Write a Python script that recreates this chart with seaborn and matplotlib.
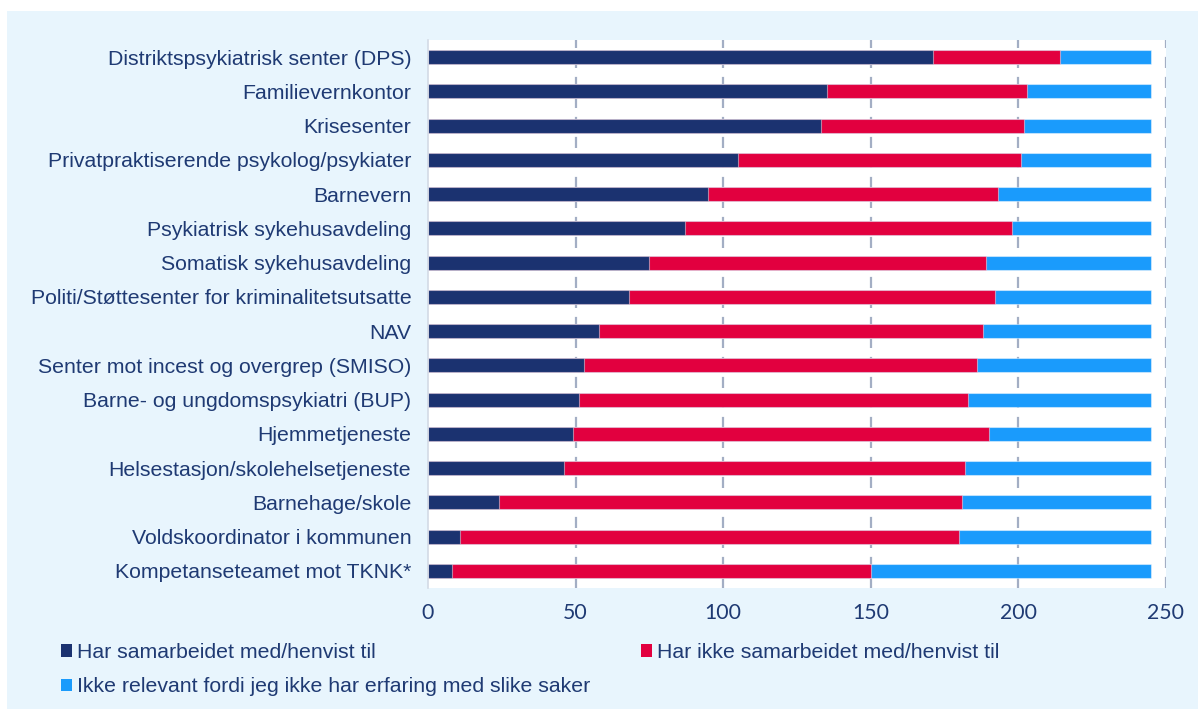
import matplotlib
matplotlib.use("Agg")
import matplotlib.pyplot as plt
from matplotlib.patches import Rectangle, Patch
import seaborn as sns
import pandas as pd
import numpy as np

categories = [
    "Distriktspsykiatrisk senter (DPS)",
    "Familievernkontor",
    "Krisesenter",
    "Privatpraktiserende psykolog/psykiater",
    "Barnevern",
    "Psykiatrisk sykehusavdeling",
    "Somatisk sykehusavdeling",
    "Politi/Støttesenter for kriminalitetsutsatte",
    "NAV",
    "Senter mot incest og overgrep (SMISO)",
    "Barne- og ungdomspsykiatri (BUP)",
    "Hjemmetjeneste",
    "Helsestasjon/skolehelsetjeneste",
    "Barnehage/skole",
    "Voldskoordinator i kommunen",
    "Kompetanseteamet mot TKNK*",
]
har_samarbeidet = [171, 135, 133, 105, 95, 87, 75, 68, 58, 53, 51, 49, 46, 24, 11, 8]
har_ikke = [43, 68, 69, 96, 98, 111, 114, 124, 130, 133, 132, 141, 136, 157, 169, 142]
ikke_relevant = [31, 42, 43, 44, 52, 47, 56, 53, 57, 59, 62, 55, 63, 64, 65, 95]

series_names = [
    "Har samarbeidet med/henvist til",
    "Har ikke samarbeidet med/henvist til",
    "Ikke relevant fordi jeg ikke har erfaring med slike saker",
]
colors = ["#1B3270", "#E2003F", "#1A9BFC"]
text_color = "#1F3A73"
x_ticks = [0, 50, 100, 150, 200, 250]

df = pd.DataFrame({
    "kategori": categories,
    "s1": har_samarbeidet,
    "s2": har_ikke,
    "s3": ikke_relevant,
})
df["c1"] = df["s1"]
df["c2"] = df["s1"] + df["s2"]
df["c3"] = df["s1"] + df["s2"] + df["s3"]

sns.set_theme(style="white")
plt.rcParams["font.family"] = ["Liberation Sans", "DejaVu Sans"]

W, H = 1198, 709
fs = 15.3
fig = plt.figure(figsize=(W / 100, H / 100), dpi=100, facecolor="white")
# light blue panel
fig.patches.append(Rectangle((7 / W, 0), 1 - 7 / W, 1 - 11 / H, transform=fig.transFigure,
                             facecolor="#E8F5FD", edgecolor="none", zorder=-10))

left, right, top, bottom = 428 / W, 1166 / W, 1 - 40 / H, 1 - 588 / H
ax = fig.add_axes([left, bottom, right - left, top - bottom])
ax.set_facecolor("white")

edge = (1, 1, 1, 0.45)
for col, c in zip(["c3", "c2", "c1"], colors[::-1]):
    sns.barplot(data=df, x=col, y="kategori", orient="h", color=c, width=0.41,
                edgecolor=edge, linewidth=0.8, ax=ax, zorder=3, saturation=1)

ax.set_xlim(0, 250)
ax.set_ylim(15.5, -0.5)
ax.set_xticks(x_ticks)
ax.set_xticklabels([str(t) for t in x_ticks], fontsize=fs, color=text_color, family=["Lato", "DejaVu Sans"])
ax.set_yticks(range(len(categories)))
ax.set_yticklabels(categories, fontsize=fs, color=text_color)
ax.tick_params(axis="x", length=0, pad=11)
ax.tick_params(axis="y", length=0, pad=12)
ax.set_xlabel("")
ax.set_ylabel("")

for t in x_ticks[1:]:
    ax.axvline(t, color="#A3AEC4", linewidth=1.6, linestyle=(0, (5, 4)), zorder=1)

for s in ["top", "right", "bottom"]:
    ax.spines[s].set_visible(False)
ax.spines["left"].set_color("#D3DAE5")
ax.spines["left"].set_linewidth(1.2)
ax.spines["left"].set_zorder(5)

handles = [Patch(facecolor=c, edgecolor="none") for c in colors]
order = [0, 2, 1]
leg = fig.legend([handles[i] for i in order], [series_names[i] for i in order],
                 loc="upper left", bbox_to_anchor=(61 / W, 1 - 643 / H), ncol=2,
                 frameon=False, fontsize=fs, handlelength=0.5, handleheight=0.5,
                 handletextpad=0.25, columnspacing=2.4, labelspacing=0.72,
                 borderaxespad=0, borderpad=0)
for t in leg.get_texts():
    t.set_color(text_color)

fig.savefig("out.png", dpi=100, facecolor="white")
